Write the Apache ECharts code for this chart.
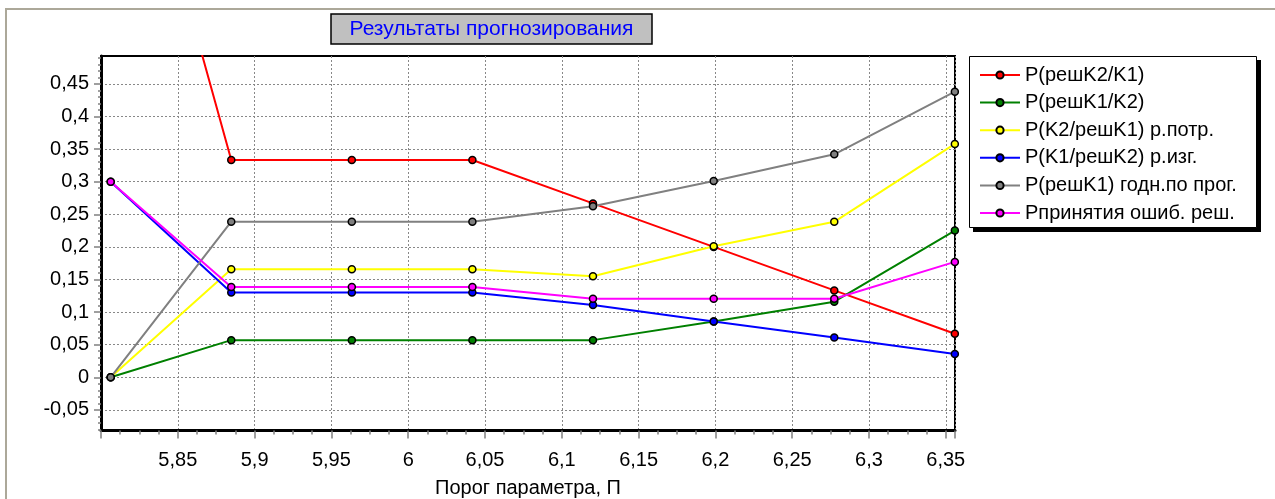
<!DOCTYPE html>
<html>
<head>
<meta charset="utf-8">
<script src="https://cdn.jsdelivr.net/npm/echarts@6/dist/echarts.min.js"></script>
<style>
html,body{margin:0;padding:0;background:#fff;}
#chart{width:1275px;height:499px;}
</style>
</head>
<body>
<div id="chart"></div>
<script>
// ---- data ----
const thresholds = [5.8063, 5.8848, 5.9633, 6.0418, 6.1203, 6.1989, 6.2774, 6.3559];
const seriesNames = [
  'P(решK2/K1)',
  'P(решK1/K2)',
  'P(K2/решK1) р.потр.',
  'P(K1/решK2) р.изг.',
  'P(решK1) годн.по прог.',
  'Pпринятия ошиб. реш.'
];
const pReshK2K1   = [1.0, 0.3333, 0.3333, 0.3333, 0.2667, 0.2000, 0.1333, 0.0667];
const pReshK1K2   = [0.0, 0.0570, 0.0570, 0.0570, 0.0570, 0.0855, 0.1160, 0.2250];
const pK2ReshK1   = [0.0, 0.1656, 0.1656, 0.1656, 0.1550, 0.2010, 0.2385, 0.3580];
const pK1ReshK2   = [0.3, 0.1300, 0.1300, 0.1300, 0.1110, 0.0855, 0.0610, 0.0357];
const pReshK1     = [0.0, 0.2387, 0.2387, 0.2387, 0.2625, 0.3010, 0.3420, 0.4380];
const pErr        = [0.3, 0.1385, 0.1385, 0.1385, 0.1205, 0.1205, 0.1205, 0.1770];
const yTickValues = [-0.05, 0, 0.05, 0.1, 0.15, 0.2, 0.25, 0.3, 0.35, 0.4, 0.45];
const yMinorTickValues = [-0.08,-0.07,-0.06,-0.04,-0.03,-0.02,-0.01,0.01,0.02,0.03,0.04,0.06,0.07,0.08,0.09,
  0.11,0.12,0.13,0.14,0.16,0.17,0.18,0.19,0.21,0.22,0.23,0.24,0.26,0.27,0.28,0.29,
  0.31,0.32,0.33,0.34,0.36,0.37,0.38,0.39,0.41,0.42,0.43,0.44,0.46,0.47,0.48,0.49];
const colors = ['#ff0000', '#008000', '#ffff00', '#0000ff', '#808080', '#ff00ff'];
const titleText = 'Результаты прогнозирования';
const xName = 'Порог параметра, П';

const allValues = [pReshK2K1, pReshK1K2, pK2ReshK1, pK1ReshK2, pReshK1, pErr];
const FONT = '"Liberation Sans", Arial, sans-serif';
const fmt = v => String(+(+v).toFixed(4)).replace('.', ',');

const chart = echarts.init(document.getElementById('chart'), null, {renderer: 'canvas'});
const option = {
  animation: false,
  backgroundColor: '#fff',
  textStyle: {fontFamily: FONT},
  grid: {left: 101, right: 320, top: 56, bottom: 68.5, show: true, borderColor: '#000', borderWidth: 2,
         containLabel: false, outerBoundsMode: 'none'},
  xAxis: {
    type: 'value', min: 5.8, max: 6.356, interval: 0.05,
    name: xName, nameLocation: 'middle', nameGap: 48,
    nameTextStyle: {fontSize: 20, color: '#000', fontFamily: FONT},
    axisLine: {show: true, onZero: false, lineStyle: {color: '#000', width: 3}},
    axisTick: {show: true, length: 8, lineStyle: {color: '#808080', width: 1.5}},
    minorTick: {show: true, splitNumber: 4, length: 4, lineStyle: {color: '#808080', width: 1.5}},
    axisLabel: {showMinLabel: false, showMaxLabel: false, margin: 20, fontSize: 20, color: '#000', fontFamily: FONT, formatter: fmt},
    splitLine: {show: true, lineStyle: {color: '#888', width: 1, type: [2, 2]}}
  },
  yAxis: [{
    type: 'value', min: -0.0816, max: 0.4928,
    axisLine: {show: true, onZero: false, lineStyle: {color: '#000', width: 3}},
    axisTick: {show: true, length: 7, customValues: yTickValues, lineStyle: {color: '#808080', width: 1.5}},
    axisLabel: {customValues: yTickValues, margin: 12, fontSize: 20, color: '#000', fontFamily: FONT, formatter: fmt},
    splitLine: {show: true, lineStyle: {color: '#888', width: 1, type: [2, 2]}}
  }, {
    type: 'value', min: -0.0816, max: 0.4928, position: 'left',
    axisLine: {show: false, onZero: false},
    axisTick: {show: true, length: 3, customValues: yMinorTickValues, lineStyle: {color: '#808080', width: 1.5}},
    axisLabel: {show: false},
    splitLine: {show: false}
  }],
  legend: {
    orient: 'vertical', left: 969, top: 56, z: 20,
    padding: [9, 6, 5, 10], itemWidth: 40, itemHeight: 9, itemGap: 7.6,
    backgroundColor: 'transparent', borderWidth: 0,
    textStyle: {fontSize: 20, color: '#000', fontFamily: FONT},
    data: seriesNames
  },
  graphic: [
    {type: 'rect', z: -10, silent: true, shape: {x: 6, y: 9, width: 1300, height: 600},
     style: {fill: 'none', stroke: '#aca899', lineWidth: 2}},
    {type: 'rect', z: 5, silent: true, shape: {x: 973, y: 60, width: 288, height: 172},
     style: {fill: '#000'}},
    {type: 'rect', z: 6, silent: true, shape: {x: 969.5, y: 56.5, width: 287, height: 171},
     style: {fill: '#fff', stroke: '#000', lineWidth: 1}},
    {type: 'rect', z: 10, shape: {x: 331, y: 14, width: 321, height: 30},
     style: {fill: '#c0c0c0', stroke: '#000', lineWidth: 1.5}},
    {type: 'text', z: 11, x: 491.5, y: 29.5,
     style: {text: titleText, fill: '#0000ff', fontSize: 21, fontFamily: FONT, align: 'center', verticalAlign: 'middle'}}
  ],
  series: seriesNames.map((name, i) => ({
    name: name, type: 'line', xAxisIndex: 0, yAxisIndex: 0,
    data: thresholds.map((x, j) => [x, allValues[i][j]]),
    symbol: 'circle', symbolSize: 7, showAllSymbol: true,
    lineStyle: {color: colors[i], width: 2},
    itemStyle: {color: colors[i], borderColor: '#000', borderWidth: 1.5},
    emphasis: {disabled: true},
    z: 2 + i
  }))
};
chart.setOption(option);
</script>
</body>
</html>
